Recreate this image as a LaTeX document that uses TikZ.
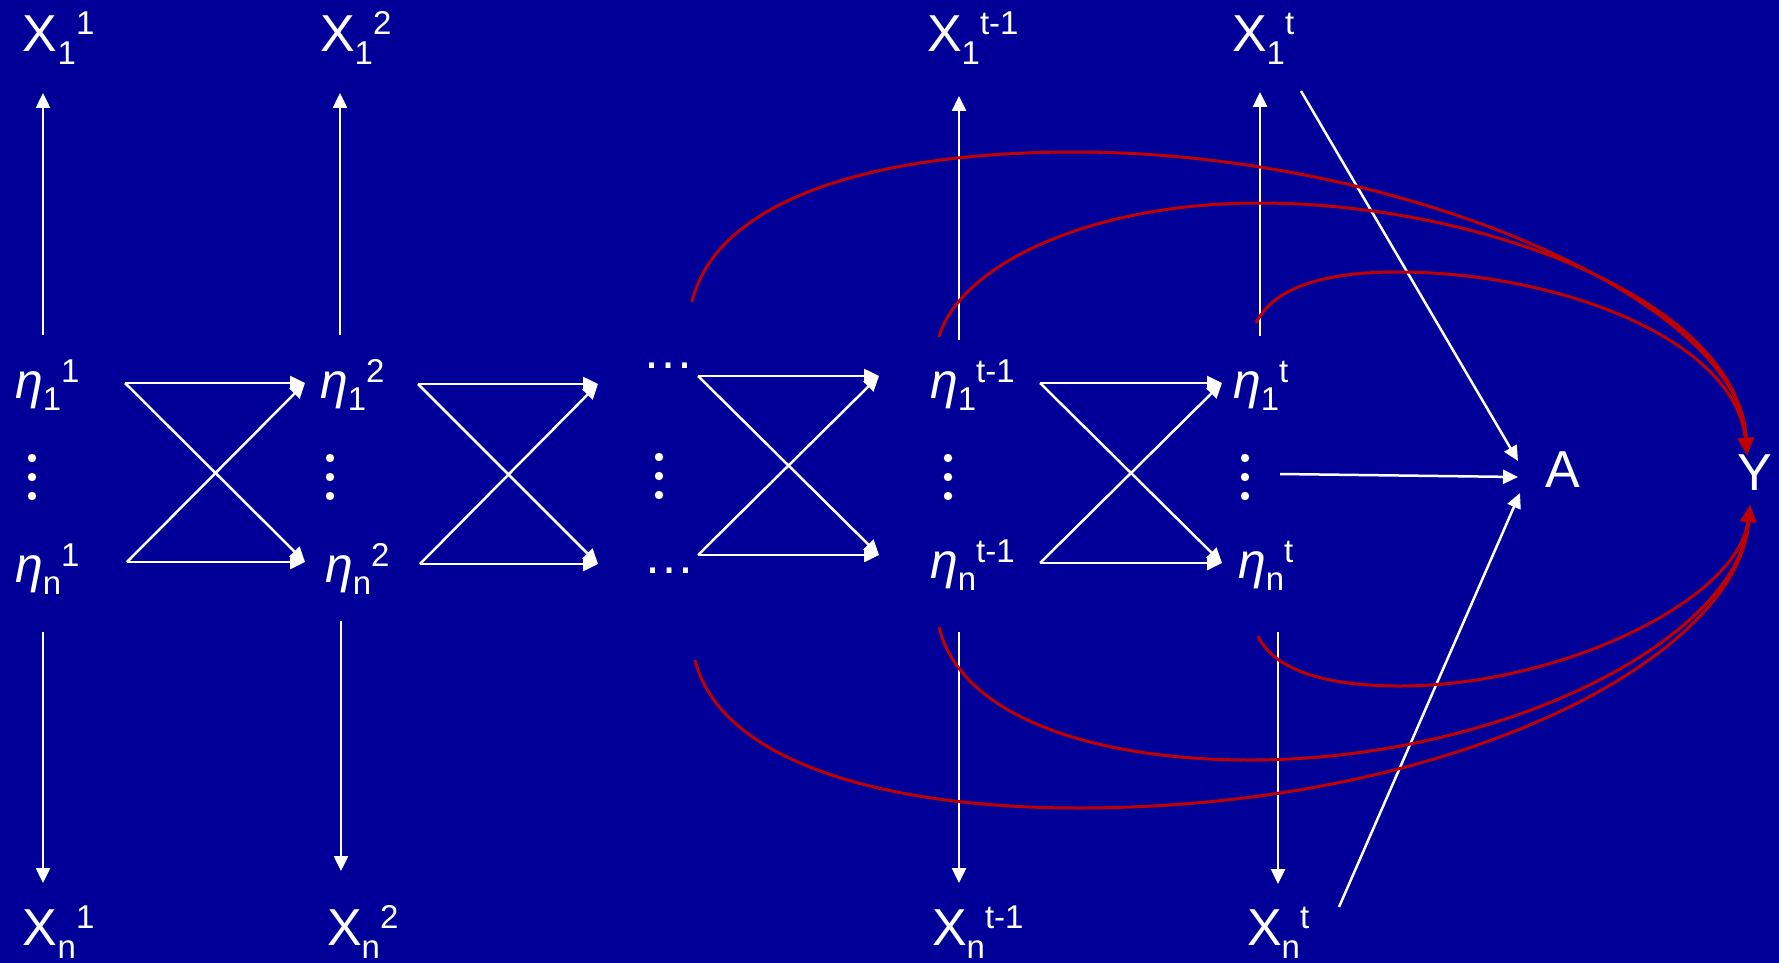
\documentclass[tikz,border=0pt]{standalone}
\usepackage{fontspec}
\setmainfont{Liberation Sans}
\usetikzlibrary{arrows.meta}
\definecolor{bgblue}{RGB}{0,0,153}
\definecolor{redc}{RGB}{192,0,0}
\newcommand{\smf}{\fontsize{33}{33}\selectfont}
\newcommand{\SubSup}[3]{#1\raisebox{-13pt}{\smf #2}\raisebox{17pt}{\smf #3}}
\newcommand{\EtaSS}[2]{{\fontsize{50}{50}\selectfont\itshape η}\raisebox{-12pt}{\smf #1}\raisebox{16pt}{\smf #2}}
\begin{document}
\begin{tikzpicture}[x=1pt,y=-1pt,
  lbl/.style={anchor=base west,inner sep=0pt,outer sep=0pt,text=white,font=\fontsize{52}{52}\selectfont},
  warr/.style={draw=white,line width=2.5pt,-{Triangle[length=15pt,width=14pt]}},
  rarr/.style={draw=redc,line width=3pt,-{Triangle[length=17pt,width=15pt]}},
  vdot/.style={fill=white}]
\useasboundingbox (0,0) rectangle (1779,963);
\fill[bgblue] (0,0) rectangle (1779,963);

% top X labels
\node[lbl] (xa1) at (23,52) {\SubSup{X}{1}{1}};
\node[lbl] (xa2) at (320,52) {\SubSup{X}{1}{2}};
\node[lbl] (xat1) at (927,52) {\SubSup{X}{1}{t-1}};
\node[lbl] (xat) at (1232,52) {\SubSup{X}{1}{t}};
% bottom X labels
\node[lbl] (xb1) at (23,945) {\SubSup{X}{n}{1}};
\node[lbl] (xb2) at (327,945) {\SubSup{X}{n}{2}};
\node[lbl] (xbt1) at (932,945) {\SubSup{X}{n}{t-1}};
\node[lbl] (xbt) at (1247,945) {\SubSup{X}{n}{t}};
% eta labels
\node[lbl] (e11) at (15,398) {\EtaSS{1}{1}};
\node[lbl] (en1) at (15,582) {\EtaSS{n}{1}};
\node[lbl] (e12) at (320,398) {\EtaSS{1}{2}};
\node[lbl] (en2) at (325,582) {\EtaSS{n}{2}};
\node[lbl] (e1t1) at (930,398) {\EtaSS{1}{t-1}};
\node[lbl] (ent1) at (930,578) {\EtaSS{n}{t-1}};
\node[lbl] (e1t) at (1233,398) {\EtaSS{1}{t}};
\node[lbl] (ent) at (1238,578) {\EtaSS{n}{t}};
% ellipses
\node[lbl] (hd1) at (642,368) {…};
\node[lbl] (hd2) at (643,573) {…};
% A and Y
\node[lbl] (A) at (1545,487) {A};
\node[lbl] (Y) at (1737,490) {Y};

% vertical dots
\foreach \x/\ya in {32/458,330/458,659/457,948/458,1245/458}{
  \fill[vdot] (\x,\ya) circle (4.2pt);
  \fill[vdot] (\x,\ya+19) circle (4.2pt);
  \fill[vdot] (\x,\ya+38) circle (4.2pt);
}

% vertical arrows
\coordinate (u1a) at (43,335);  \coordinate (u1b) at (43,93);
\coordinate (u2a) at (340,335); \coordinate (u2b) at (340,93);
\coordinate (u3a) at (959,340); \coordinate (u3b) at (959,96);
\coordinate (u4a) at (1260,336); \coordinate (u4b) at (1260,92);
\coordinate (d1a) at (43,632);  \coordinate (d1b) at (43,883);
\coordinate (d2a) at (341,621); \coordinate (d2b) at (341,871);
\coordinate (d3a) at (959,632); \coordinate (d3b) at (959,883);
\coordinate (d4a) at (1278,632); \coordinate (d4b) at (1278,884);
\foreach \p in {u1,u2,u3,u4,d1,d2,d3,d4}{\draw[warr] (\p a) -- (\p b);}

% crosses
\coordinate (c1tl) at (125,383); \coordinate (c1tr) at (305,383);
\coordinate (c1bl) at (127,562); \coordinate (c1br) at (305,562);
\coordinate (c2tl) at (418,384); \coordinate (c2tr) at (598,384);
\coordinate (c2bl) at (420,564); \coordinate (c2br) at (598,564);
\coordinate (c3tl) at (698,376); \coordinate (c3tr) at (879,376);
\coordinate (c3bl) at (698,555); \coordinate (c3br) at (879,555);
\coordinate (c4tl) at (1040,383); \coordinate (c4tr) at (1222,383);
\coordinate (c4bl) at (1040,563); \coordinate (c4br) at (1222,563);
\foreach \c in {c1,c2,c3,c4}{
  \draw[warr] (\c tl) -- (\c tr);
  \draw[warr] (\c tl) -- (\c br);
  \draw[warr] (\c bl) -- (\c br);
  \draw[warr] (\c bl) -- (\c tr);
}

% arrows into A
\coordinate (ga1) at (1301,91);  \coordinate (ga1e) at (1518,461);
\coordinate (ga2) at (1280,474); \coordinate (ga2e) at (1518,477);
\coordinate (ga3) at (1339,907); \coordinate (ga3e) at (1520,493);
\draw[warr] (ga1) -- (ga1e);
\draw[warr] (ga2) -- (ga2e);
\draw[warr] (ga3) -- (ga3e);

% red curves into Y
\coordinate (yt) at (1747,455);
\coordinate (yb) at (1750,505);
\coordinate (r1) at (692,302);
\coordinate (r2) at (939,337);
\coordinate (r3) at (1256,323);
\coordinate (r4) at (1258,636);
\coordinate (r5) at (939,627);
\coordinate (r6) at (695,660);
\draw[rarr] (r1) .. controls (715,205) and (860,152) .. (1075,152)
  .. controls (1400,152) and (1740,300) .. (yt);
\draw[rarr] (r2) .. controls (960,265) and (1090,203) .. (1259,203)
  .. controls (1480,203) and (1738,300) .. (yt);
\draw[rarr] (r3) .. controls (1275,285) and (1330,272) .. (1397,272)
  .. controls (1560,272) and (1735,340) .. (yt);
\draw[rarr] (r4) .. controls (1275,672) and (1330,686) .. (1400,686)
  .. controls (1560,686) and (1738,600) .. (yb);
\draw[rarr] (r5) .. controls (960,715) and (1090,760) .. (1250,760)
  .. controls (1500,760) and (1738,640) .. (yb);
\draw[rarr] (r6) .. controls (720,760) and (880,808) .. (1078,808)
  .. controls (1450,808) and (1738,660) .. (yb);
\end{tikzpicture}
\end{document}
